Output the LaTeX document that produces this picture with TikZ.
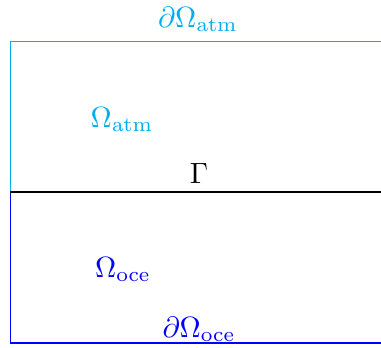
\documentclass[tikz,border=0pt]{standalone}
\definecolor{atmcol}{RGB}{0,174,239}
\definecolor{ocecol}{RGB}{0,0,255}
\begin{document}
\begin{tikzpicture}[x=0.3413pt,y=-0.3413pt,
  lbl/.style={inner sep=0pt,anchor=base}]
\useasboundingbox (0,0) rectangle (381,347);
\coordinate (tl) at (10.5,41.5);
\coordinate (tr) at (385,41.5);
\coordinate (ml) at (10.5,192);
\coordinate (mr) at (385,192);
\coordinate (bl) at (10.5,343);
\coordinate (br) at (385,343);
\draw[atmcol] (tr) -- (tl) -- (ml);
\draw[ocecol] (ml) -- (bl) -- (br);
\draw[black] (ml) -- (mr);
\node[lbl,text=atmcol] (datm) at (198,27) {$\partial\Omega_{\mathrm{atm}}$};
\node[lbl,text=atmcol] (atm) at (122,127) {$\Omega_{\mathrm{atm}}$};
\node[lbl] (gamma) at (199,183) {$\Gamma$};
\node[lbl,text=ocecol] (oce) at (123,277) {$\Omega_{\mathrm{oce}}$};
\node[lbl,text=ocecol] (doce) at (199,337) {$\partial\Omega_{\mathrm{oce}}$};
\end{tikzpicture}
\end{document}
